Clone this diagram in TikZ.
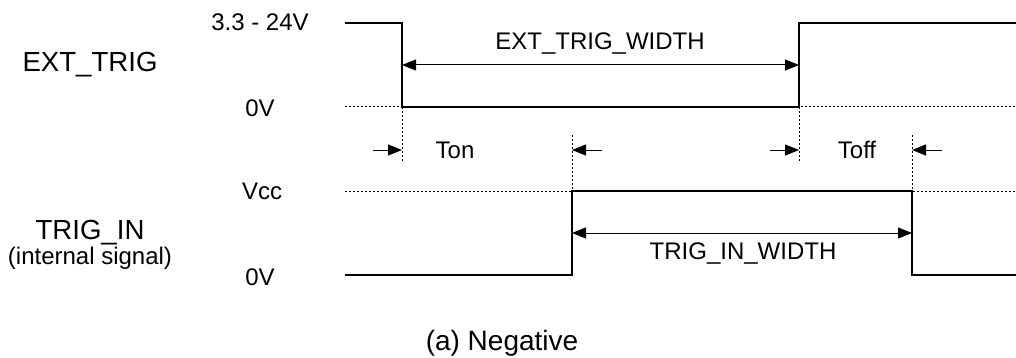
\documentclass[tikz,border=0pt]{standalone}
\usepackage{fontspec}
\setmainfont{Liberation Sans}
\usetikzlibrary{arrows.meta}

\begin{document}
\begin{tikzpicture}[x=0.5pt, y=-0.5pt,
    signal/.style={line width=1pt},
    level/.style={line width=0.5pt, dash pattern=on 1pt off 1pt},
    mark line/.style={line width=0.5pt, dash pattern=on 1pt off 1pt},
    dim/.style={line width=0.5pt, {Triangle[length=7pt,width=5.5pt]}-{Triangle[length=7pt,width=5.5pt]}},
    tick/.style={line width=0.5pt, -{Triangle[length=7pt,width=5.5pt]}},
    lbl/.style={font=\fontsize{12pt}{14pt}\selectfont, inner sep=0pt},
    big/.style={font=\fontsize{13.8pt}{16pt}\selectfont, inner sep=0pt}]
    \useasboundingbox (0,0) rectangle (1016,358);
    % labels
    \node[big] (ext) at (90,65) {EXT\_TRIG};
    \node[big] (trig) at (90,233) {TRIG\_IN};
    \node[lbl] (int) at (90,258) {(internal signal)};
    \node[lbl] (vh) at (260,22) {3.3 - 24V};
    \node[lbl] (v0a) at (260,108) {0V};
    \node[lbl] (vcc) at (262,191) {Vcc};
    \node[lbl] (v0b) at (260,277) {0V};
    \node[font=\fontsize{14pt}{16pt}\selectfont, inner sep=0pt] (cap) at (502,343) {(a) Negative};
    % edges
    \coordinate (a0) at (345,23);
    \coordinate (a1) at (402,23);
    \coordinate (a2) at (402,107);
    \coordinate (a3) at (799,107);
    \coordinate (a4) at (799,23);
    \coordinate (a5) at (1016,23);
    \coordinate (b0) at (345,275);
    \coordinate (b1) at (572,275);
    \coordinate (b2) at (572,191);
    \coordinate (b3) at (912,191);
    \coordinate (b4) at (912,275);
    \coordinate (b5) at (1016,275);
    % levels
    \draw[level] (345,107) -- (1016,107);
    \draw[level] (345,191) -- (1016,191);
    % waveforms
    \draw[signal] (a0) -- (a1) -- (a2) -- (a3) -- (a4) -- (a5);
    \draw[signal] (b0) -- (b1) -- (b2) -- (b3) -- (b4) -- (b5);
    % widths
    \draw[dim] (402,65) -- (799,65);
    \node[lbl] (extw) at (600,44) {EXT\_TRIG\_WIDTH};
    \draw[dim] (572,233) -- (912,233);
    \node[lbl] (trigw) at (743,254) {TRIG\_IN\_WIDTH};
    % delays
    \draw[mark line] (a2) -- (402,163);
    \draw[mark line] (572,135) -- (b2);
    \draw[mark line] (a3) -- (799,163);
    \draw[mark line] (912,135) -- (b3);
    \draw[tick] (373,150) -- (402,150);
    \draw[tick] (602,150) -- (572,150);
    \draw[tick] (770,150) -- (799,150);
    \draw[tick] (942,150) -- (912,150);
    \node[lbl] (ton) at (455,150) {Ton};
    \node[lbl] (toff) at (857,150) {Toff};
\end{tikzpicture}
\end{document}
